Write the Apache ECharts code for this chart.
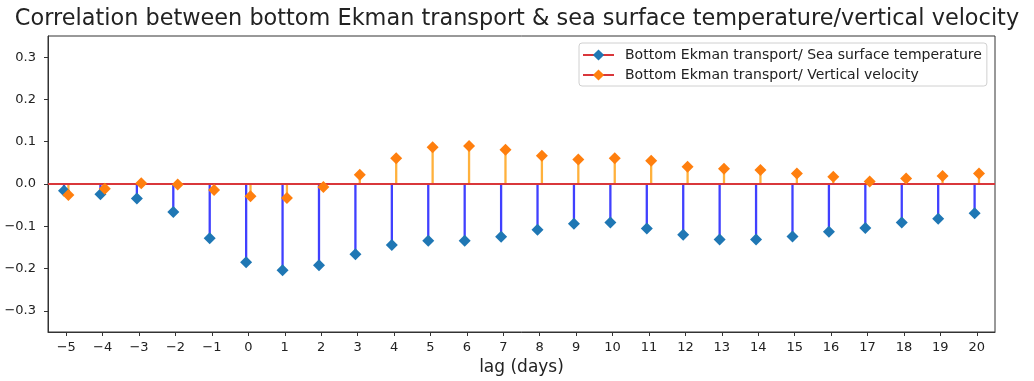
<!DOCTYPE html>
<html>
<head>
<meta charset="utf-8">
<script src="https://cdn.jsdelivr.net/npm/echarts@6/dist/echarts.min.js"></script>
<style>
  html, body { margin: 0; padding: 0; background: #fff; }
  #chart { width: 1034px; height: 381px; }
</style>
</head>
<body>
<div id="chart"></div>
<script>
// lag in days
var lags = [-5, -4, -3, -2, -1, 0, 1, 2, 3, 4, 5, 6, 7, 8, 9, 10, 11, 12, 13, 14, 15, 16, 17, 18, 19, 20];
// bottom Ekman transport vs sea surface temperature
var sstCorr = [-0.016, -0.024, -0.034, -0.066, -0.128, -0.185, -0.204, -0.192, -0.166, -0.144, -0.134, -0.134, -0.125,
  -0.108, -0.094, -0.091, -0.105, -0.120, -0.131, -0.131, -0.124, -0.113, -0.104, -0.091, -0.082, -0.069];
// bottom Ekman transport vs vertical velocity
var velCorr = [-0.026, -0.011, 0.002, -0.001, -0.014, -0.029, -0.033, -0.007, 0.022, 0.061, 0.087, 0.090, 0.081,
  0.067, 0.058, 0.061, 0.055, 0.041, 0.036, 0.033, 0.025, 0.017, 0.006, 0.013, 0.019, 0.025];
var xTicks = lags;
var yTicks = [-0.3, -0.2, -0.1, 0, 0.1, 0.2, 0.3];
var sstName = 'Bottom Ekman transport/ Sea surface temperature';
var velName = 'Bottom Ekman transport/ Vertical velocity';

var FONT = 'DejaVu Sans';
var shift = 0.06; // the two stem sets sit a little apart

function minus(s) { return s.replace('-', '\u2212'); }

function pairs(vals, dx) {
  return vals.map(function (v, i) { return [lags[i] + dx, v]; });
}

function stemSeries(vals, dx, color) {
  return {
    type: 'custom',
    silent: true,
    z: 2,
    data: pairs(vals, dx),
    renderItem: function (params, api) {
      var p0 = api.coord([api.value(0), 0]);
      var p1 = api.coord([api.value(0), api.value(1)]);
      return {
        type: 'line',
        shape: { x1: p0[0], y1: p0[1], x2: p1[0], y2: p1[1] },
        style: { stroke: color, lineWidth: 2.3 }
      };
    }
  };
}

function markerSeries(name, vals, dx, color, z) {
  return {
    name: name,
    type: 'line',
    z: z,
    data: pairs(vals, dx),
    symbol: 'diamond',
    symbolSize: 12,
    showSymbol: true,
    itemStyle: { color: color, opacity: 1 },
    lineStyle: { opacity: 0 },
    silent: true
  };
}

var chart = echarts.init(document.getElementById('chart'));

var option = {
  animation: false,
  title: {
    text: 'Correlation between bottom Ekman transport & sea surface temperature/vertical velocity',
    left: 'center',
    top: 8,
    padding: [0, 8, 0, 0],
    textStyle: { fontFamily: FONT, fontSize: 22.4, fontWeight: 'normal', color: '#222' }
  },
  legend: {
    orient: 'vertical',
    left: 579,
    top: 43,
    padding: [5, 5, 4, 3],
    itemGap: 6,
    itemWidth: 31,
    itemHeight: 14,
    borderColor: '#d0d0d0',
    borderWidth: 1,
    borderRadius: 3,
    backgroundColor: '#fff',
    data: [sstName, velName],
    lineStyle: { color: '#d9373b', width: 2, opacity: 1 },
    textStyle: { fontFamily: FONT, fontSize: 14, color: '#222', padding: [0, 0, 0, 6] }
  },
  grid: {
    left: 48, right: 39, top: 36, bottom: 49,
    show: true, borderColor: '#333', borderWidth: 1
  },
  xAxis: {
    type: 'value',
    min: -5.5,
    max: 20.5,
    name: 'lag (days)',
    nameLocation: 'middle',
    nameGap: 27,
    nameTextStyle: { fontFamily: FONT, fontSize: 17, color: '#222', verticalAlign: 'top' },
    splitLine: { show: false },
    axisLine: { show: true, onZero: false, lineStyle: { color: '#333' } },
    axisTick: { show: true, customValues: xTicks, length: 4, lineStyle: { color: '#333' } },
    axisLabel: {
      customValues: xTicks,
      margin: 9,
      fontFamily: FONT, fontSize: 13, color: '#222',
      formatter: function (v) { return minus(String(v)); }
    }
  },
  yAxis: {
    type: 'value',
    min: -0.35,
    max: 0.35,
    splitLine: { show: false },
    axisLine: { show: true, onZero: false, lineStyle: { color: '#333' } },
    axisTick: { show: true, customValues: yTicks, length: 4, lineStyle: { color: '#333' } },
    axisLabel: {
      customValues: yTicks,
      margin: 12,
      fontFamily: FONT, fontSize: 13, color: '#222',
      formatter: function (v) { return minus(v.toFixed(1)); }
    }
  },
  series: [
    stemSeries(sstCorr, -shift, '#4040ff'),
    stemSeries(velCorr, shift, '#ffb13c'),
    {
      type: 'line',
      data: [],
      silent: true,
      z: 3,
      markLine: {
        silent: true,
        symbol: 'none',
        label: { show: false },
        z: 3,
        lineStyle: { color: '#d9373b', width: 2, type: 'solid' },
        data: [{ yAxis: 0 }]
      }
    },
    markerSeries(sstName, sstCorr, -shift, '#1f77b4', 4),
    markerSeries(velName, velCorr, shift, '#ff7f0e', 5)
  ]
};

chart.setOption(option);
</script>
</body>
</html>
